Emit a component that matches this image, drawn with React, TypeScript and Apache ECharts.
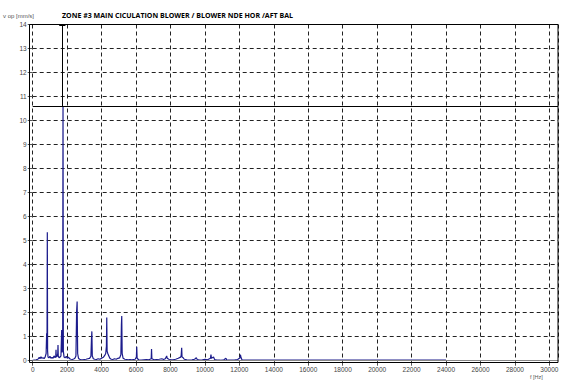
import React, { useEffect, useRef } from "react";
import * as echarts from "echarts";

const TITLE = "ZONE #3 MAIN CICULATION BLOWER / BLOWER NDE HOR /AFT BAL";
const Y_NAME = "v op [mm/s]";
const X_NAME = "f [Hz]";

const freqs = [
  0, 100, 200, 300, 380, 420, 480, 540, 600, 660, 720, 780, 810, 830, 849, 865, 890, 940, 1000, 1060,
  1120, 1180, 1240, 1300, 1340, 1353, 1370, 1420, 1455, 1469, 1485, 1530, 1590, 1640, 1683, 1700, 1740, 1760, 1780, 1820,
  1880, 1950, 2010, 2080, 2150, 2220, 2300, 2380, 2450, 2510, 2550, 2580, 2610, 2660, 2720, 2800, 2900, 3000, 3100, 3200,
  3300, 3380, 3410, 3435, 3460, 3520, 3600, 3700, 3800, 3900, 4000, 4100, 4180, 4240, 4280, 4300, 4320, 4360, 4420, 4480,
  4560, 4650, 4750, 4850, 4950, 5050, 5120, 5150, 5170, 5195, 5250, 5350, 5450, 5550, 5650, 5750, 5850, 5950, 6020, 6040,
  6065, 6150, 6300, 6450, 6600, 6750, 6880, 6900, 6920, 7050, 7200, 7350, 7500, 7600, 7700, 7780, 7810, 7900, 8000, 8150,
  8300, 8450, 8590, 8620, 8650, 8670, 8740, 8800, 8950, 9100, 9250, 9400, 9500, 9550, 9700, 9850, 10000, 10150, 10320, 10350,
  10380, 10500, 10560, 10700, 10900, 11100, 11220, 11260, 11450, 11700, 11900, 12040, 12060, 12100, 12150, 12400, 13000, 14000, 16000, 18000,
  20000, 22000, 24000,
];

const amps = [
  0.02, 0.03, 0.04, 0.06, 0.14, 0.08, 0.16, 0.1, 0.12, 0.09, 0.15, 0.3, 1.14, 0.5, 5.35, 0.4, 0.15, 0.12, 0.18, 0.1,
  0.14, 0.1, 0.2, 0.12, 0.2, 0.45, 0.15, 0.18, 0.3, 0.65, 0.2, 0.12, 0.15, 0.2, 1.28, 0.35, 0.5, 10.6, 0.4, 0.15,
  0.12, 0.18, 0.1, 0.15, 0.08, 0.06, 0.05, 0.07, 0.1, 0.2, 2.05, 2.46, 0.3, 0.1, 0.06, 0.05, 0.04, 0.05, 0.06, 0.08,
  0.1, 0.18, 0.85, 1.22, 0.2, 0.08, 0.06, 0.05, 0.08, 0.06, 0.1, 0.14, 0.22, 0.3, 0.6, 1.8, 0.4, 0.3, 0.2, 0.1,
  0.06, 0.05, 0.08, 0.06, 0.1, 0.12, 0.25, 1.5, 1.86, 0.3, 0.1, 0.06, 0.05, 0.04, 0.05, 0.04, 0.05, 0.06, 0.15, 0.58,
  0.1, 0.04, 0.03, 0.04, 0.05, 0.04, 0.08, 0.49, 0.08, 0.04, 0.05, 0.06, 0.08, 0.05, 0.08, 0.2, 0.1, 0.06, 0.05, 0.04,
  0.06, 0.1, 0.15, 0.22, 0.54, 0.15, 0.12, 0.06, 0.04, 0.03, 0.04, 0.06, 0.12, 0.05, 0.03, 0.04, 0.06, 0.04, 0.1, 0.25,
  0.1, 0.15, 0.05, 0.03, 0.02, 0.04, 0.1, 0.03, 0.02, 0.03, 0.05, 0.12, 0.25, 0.12, 0.04, 0.02, 0.02, 0.02, 0.02, 0.02,
  0.02, 0.02, 0.02,
];

const CURSOR_FREQ = 1720;
const CURSOR_AMP = 10.6;
const X_MIN = 0;
const X_MAX = 30500;
const Y_MIN = 0;
const Y_MAX = 14;

export default function App() {
  const ref = useRef<HTMLDivElement>(null);
  useEffect(() => {
    if (!ref.current) return;
    const chart = echarts.init(ref.current, null, { renderer: "svg" });
    const data = freqs.map((f, i) => [f, amps[i]]);
    chart.setOption({
      animation: false,
      backgroundColor: "#ffffff",
      grid: {
        left: 32.7,
        right: 6,
        top: 24.5,
        bottom: 20.3,
        show: false,
      },
      graphic: [
        {
          type: "rect",
          shape: { x: 29.5, y: 24.5, width: 528.5, height: 338 },
          style: { fill: "none", stroke: "#000", lineWidth: 1 },
          z: 10,
          silent: true,
        },
        {
          type: "text",
          x: 62,
          y: 11,
          scaleX: 0.94,
          style: {
            text: TITLE,
            font: "bold 7.5px 'Open Sans', sans-serif",
            fill: "#000",
          },
        },
        {
          type: "text",
          x: 3,
          y: 13,
          style: { text: Y_NAME, font: "6px 'Liberation Sans', sans-serif", fill: "#555" },
        },
        {
          type: "text",
          x: 530,
          y: 374,
          style: { text: X_NAME, font: "5.5px 'Liberation Sans', sans-serif", fill: "#555" },
        },
      ],
      xAxis: {
        type: "value",
        min: X_MIN,
        max: X_MAX,
        interval: 2000,
        axisLine: { show: false },
        axisTick: { show: true, length: 5, lineStyle: { color: "#555" } },
        axisLabel: {
          showMaxLabel: false,
          fontSize: 6.5,
          color: "#444",
          margin: 5,
          fontFamily: "Liberation Sans",
          formatter: (v: number) => String(v),
        },
        splitLine: { show: true, lineStyle: { color: "#222", type: [4, 3], width: 1 } },
      },
      yAxis: {
        type: "value",
        min: Y_MIN,
        max: Y_MAX,
        interval: 1,
        axisLine: { show: false },
        axisTick: { show: true, length: 5, lineStyle: { color: "#555" } },
        axisLabel: {
          fontSize: 6.5,
          color: "#444",
          margin: 6,
          fontFamily: "Liberation Sans",
        },
        splitLine: { show: true, lineStyle: { color: "#222", type: [4, 3], width: 1 } },
      },
      series: [
        {
          type: "line",
          data,
          symbol: "none",
          lineStyle: { color: "#1c1c8c", width: 1.2 },
          z: 3,
          markLine: {
            silent: true,
            symbol: "none",
            label: { show: false },
            data: [
              { yAxis: 0, lineStyle: { color: "#888", type: "solid", width: 1 } },
              { yAxis: CURSOR_AMP, lineStyle: { color: "#000", type: "solid", width: 1 } },
              [
                { coord: [CURSOR_FREQ, CURSOR_AMP], lineStyle: { color: "#000", type: "solid", width: 1 } },
                { coord: [CURSOR_FREQ, Y_MAX] },
              ],
              [
                { coord: [CURSOR_FREQ - 180, Y_MAX], lineStyle: { color: "#000", type: "solid", width: 2 } },
                { coord: [CURSOR_FREQ + 180, Y_MAX] },
              ],
            ],
          },
        },
      ],
    });
    return () => chart.dispose();
  }, []);
  return (
    <div
      ref={ref}
      style={{ position: "fixed", left: 0, top: 0, width: 564, height: 381, background: "#fff" }}
    />
  );
}
